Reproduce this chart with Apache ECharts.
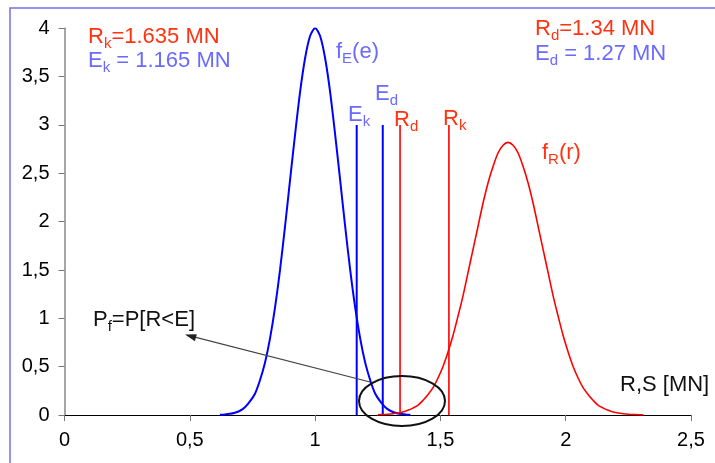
<!DOCTYPE html>
<html>
<head>
<meta charset="utf-8">
<script src="https://cdn.jsdelivr.net/npm/echarts@6/dist/echarts.min.js"></script>
<style>
html,body{margin:0;padding:0;background:#fff;}
#chart{width:715px;height:463px;}
</style>
</head>
<body>
<div id="chart"></div>
<script>
// ---- data ----
const blueX = [0.62,0.64,0.66,0.68,0.70,0.72,0.74,0.76,0.78,0.80,0.82,0.84,0.86,0.88,0.90,0.92,0.94,0.96,0.98,1.00,
               1.02,1.04,1.06,1.08,1.10,1.12,1.14,1.16,1.18,1.20,1.22,1.24,1.26,1.28,1.30,1.32,1.34,1.36,1.38];
const blueY = [0.003,0.006,0.012,0.024,0.044,0.08,0.14,0.22,0.36,0.54,0.79,1.11,1.50,1.95,2.43,2.90,3.34,3.69,3.92,4.00,
               3.92,3.69,3.34,2.90,2.43,1.95,1.50,1.11,0.79,0.54,0.36,0.22,0.14,0.08,0.044,0.024,0.012,0.006,0.003];
const redX = [1.25,1.27,1.29,1.31,1.33,1.35,1.37,1.39,1.41,1.43,1.45,1.47,1.49,1.51,1.53,1.55,1.57,1.59,1.61,1.63,1.65,1.67,1.69,1.71,1.73,1.75,1.77,
              1.79,1.81,1.83,1.85,1.87,1.89,1.91,1.93,1.95,1.97,1.99,2.01,2.03,2.05,2.07,2.09,2.11,2.13,2.15,2.17,2.19,2.21,2.23,2.25,2.27,2.29,2.31];
const redY = [0.003,0.005,0.008,0.013,0.020,0.031,0.048,0.071,0.10,0.15,0.21,0.28,0.38,0.50,0.65,0.82,1.02,1.23,1.47,1.71,1.95,2.19,2.40,2.57,2.71,2.79,2.82,
              2.79,2.71,2.57,2.40,2.19,1.95,1.71,1.47,1.23,1.02,0.82,0.65,0.50,0.38,0.28,0.21,0.15,0.10,0.071,0.048,0.031,0.020,0.013,0.008,0.005,0.003,0.0];
const blueLinesX = [1.166, 1.27];   // Ek, Ed
const redLinesX = [1.339, 1.534];   // Rd, Rk
const lineTop = 3;
const xTicks = [0, 0.5, 1, 1.5, 2, 2.5];
const yTicks = [0, 0.5, 1, 1.5, 2, 2.5, 3, 3.5, 4];

// ---- build ----
const BLUE = '#0000ff', RED = '#ff0000', BTXT = '#6a6aff', RTXT = '#ff3311';
const pairs = (xs, ys) => xs.map((x, i) => [x, ys[i]]);
const vline = (x, color, w) => ({
  type: 'line', data: [[x, 0], [x, lineTop]], symbol: 'none',
  lineStyle: { color: color, width: w }, silent: true, z: 3
});
const FONT = 'Liberation Sans, Arial, sans-serif';
function rt(x, y, parts, color, size) {
  // parts: array of [text, isSub]
  let text = parts.map(p => (p[1] ? '{s|' : '{m|') + p[0] + '}').join('');
  return {
    type: 'text', x: x, y: y, z: 50,
    style: {
      text: text, fill: color, align: 'left', verticalAlign: 'top',
      fontFamily: FONT, fontSize: size || 22,
      rich: {
        m: { fontSize: size || 22, fill: color, fontFamily: FONT },
        s: { fontSize: 15, fill: color, fontFamily: FONT, padding: [14, 0, 0, 0] }
      }
    }
  };
}
const fmt = v => String(v).replace('.', ',');

const chart = echarts.init(document.getElementById('chart'), null, { renderer: 'canvas' });
const series = [
  { type: 'line', data: pairs(blueX, blueY), symbol: 'none', smooth: 0.3, lineStyle: { color: BLUE, width: 2 }, z: 4 },
  { type: 'line', data: pairs(redX, redY), symbol: 'none', smooth: 0.3, lineStyle: { color: RED, width: 1.6 }, z: 4 }
];
blueLinesX.forEach(x => series.push(vline(x, BLUE, 2)));
redLinesX.forEach(x => series.push(vline(x, RED, 1.6)));

chart.setOption({
  animation: false,
  grid: { left: 64.5, right: 24, top: 28.3, bottom: 48 },
  xAxis: {
    type: 'value', min: xTicks[0], max: xTicks[xTicks.length - 1], interval: 0.5,
    axisLine: { show: true, onZero: false, lineStyle: { color: '#000', width: 1 } },
    axisTick: { show: true, length: 6, lineStyle: { color: '#777' } },
    axisLabel: { color: '#000', fontSize: 20, fontFamily: FONT, margin: 15, formatter: fmt },
    splitLine: { show: false }
  },
  yAxis: {
    type: 'value', min: yTicks[0], max: yTicks[yTicks.length - 1], interval: 0.5,
    axisLine: { show: true, lineStyle: { color: '#888', width: 1.5 } },
    axisTick: { show: true, length: 6, lineStyle: { color: '#777' } },
    axisLabel: { color: '#000', fontSize: 20, fontFamily: FONT, margin: 15, formatter: fmt },
    splitLine: { show: false }
  },
  series: series,
  graphic: [
    { type: 'rect', shape: { x: 10, y: 8, width: 800, height: 600 }, style: { fill: 'none', stroke: '#7272e6', lineWidth: 1.5 }, z: 1, silent: true },
    rt(88, 22, [['R', 0], ['k', 1], ['=1.635 MN', 0]], RTXT),
    rt(88, 46, [['E', 0], ['k', 1], [' = 1.165 MN', 0]], BTXT),
    rt(535, 14, [['R', 0], ['d', 1], ['=1.34 MN', 0]], RTXT),
    rt(535, 39, [['E', 0], ['d', 1], [' = 1.27 MN', 0]], BTXT),
    rt(336, 37, [['f', 0], ['E', 1], ['(e)', 0]], BTXT),
    rt(542, 138, [['f', 0], ['R', 1], ['(r)', 0]], RTXT),
    rt(375, 79, [['E', 0], ['d', 1]], BTXT),
    rt(348, 100, [['E', 0], ['k', 1]], BTXT),
    rt(394, 105, [['R', 0], ['d', 1]], RTXT),
    rt(443, 104, [['R', 0], ['k', 1]], RTXT),
    rt(93, 305, [['P', 0], ['f', 1], ['=P[R<E]', 0]], '#111'),
    rt(620, 374, [['R,S [MN]', 0]], '#111'),
    { type: 'line', shape: { x1: 370, y1: 382, x2: 192, y2: 336.3 }, style: { stroke: '#444', lineWidth: 1.2 }, z: 40 },
    { type: 'polygon', shape: { points: [[185, 334.5], [196.8, 334.2], [194.9, 341.2]] }, style: { fill: '#222' }, z: 40 },
    { type: 'ellipse', shape: { cx: 402, cy: 401, rx: 43, ry: 25 }, style: { fill: 'none', stroke: '#111', lineWidth: 2 }, z: 41 }
  ]
});
</script>
</body>
</html>
